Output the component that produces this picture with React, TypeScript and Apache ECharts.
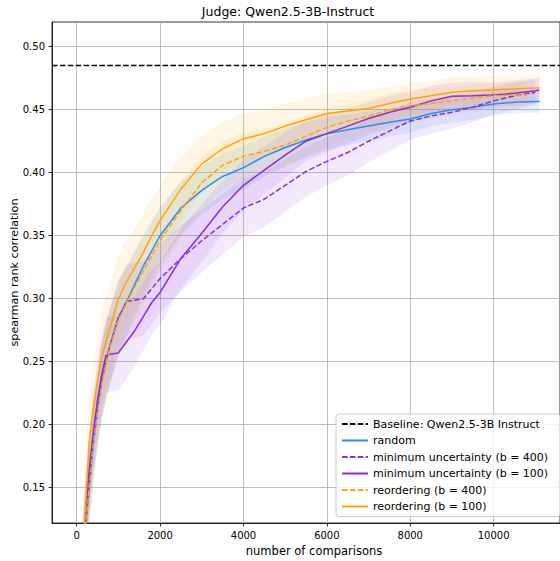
import React, { useEffect, useRef } from "react";
import * as echarts from "echarts";

// ---- data ----
const XS = [100, 200, 300, 400, 500, 600, 700, 800, 1000, 1200, 1400, 1600, 1800, 2000, 2500, 3000, 3500, 4000, 4500, 5000, 5500, 6000, 6500, 7000, 7500, 8000, 8500, 9000, 9500, 10000, 10500];

const RANDOM_X = [...XS, 11000, 11100];
const RANDOM_Y = [0.07, 0.112, 0.15, 0.185, 0.212, 0.235, 0.25, 0.263, 0.285, 0.298, 0.312, 0.326, 0.338, 0.35, 0.372, 0.386, 0.397, 0.404, 0.413, 0.42, 0.426, 0.431, 0.434, 0.437, 0.44, 0.4426, 0.447, 0.45, 0.452, 0.4545, 0.456, 0.4565, 0.4566];
const RANDOM_HW = [0.03, 0.03, 0.03, 0.03, 0.03, 0.03, 0.03, 0.03, 0.028, 0.027, 0.026, 0.025, 0.024, 0.023, 0.021, 0.019, 0.018, 0.017, 0.016, 0.015, 0.014, 0.013, 0.012, 0.012, 0.011, 0.011, 0.01, 0.01, 0.01, 0.009, 0.009, 0.009, 0.009];

const MU400_X = [...XS, 11000];
const MU400_Y = [0.07, 0.12, 0.155, 0.19, 0.215, 0.235, 0.25, 0.263, 0.285, 0.298, 0.299, 0.3, 0.308, 0.316, 0.332, 0.346, 0.359, 0.372, 0.379, 0.39, 0.401, 0.409, 0.416, 0.425, 0.433, 0.441, 0.445, 0.448, 0.452, 0.457, 0.461, 0.4638];
const MU400_HW = [0.03, 0.03, 0.03, 0.03, 0.03, 0.03, 0.03, 0.03, 0.03, 0.03, 0.03, 0.029, 0.028, 0.027, 0.026, 0.025, 0.024, 0.023, 0.022, 0.021, 0.02, 0.019, 0.018, 0.017, 0.016, 0.015, 0.014, 0.013, 0.012, 0.011, 0.011, 0.01];

const MU100_X = [...XS, 11000, 11100];
const MU100_Y = [0.07, 0.125, 0.165, 0.195, 0.22, 0.24, 0.255, 0.256, 0.257, 0.266, 0.275, 0.286, 0.297, 0.305, 0.332, 0.352, 0.373, 0.39, 0.402, 0.414, 0.425, 0.431, 0.437, 0.443, 0.448, 0.452, 0.457, 0.4606, 0.461, 0.4617, 0.463, 0.465, 0.4657];
const MU100_HW = [0.03, 0.03, 0.03, 0.03, 0.03, 0.03, 0.03, 0.03, 0.03, 0.029, 0.028, 0.027, 0.026, 0.025, 0.024, 0.023, 0.021, 0.02, 0.019, 0.018, 0.016, 0.015, 0.014, 0.013, 0.013, 0.012, 0.012, 0.011, 0.011, 0.01, 0.01, 0.01, 0.01];

const RE400_X = [...XS, 10800];
const RE400_Y = [0.075, 0.115, 0.15, 0.185, 0.21, 0.232, 0.248, 0.262, 0.283, 0.297, 0.31, 0.322, 0.334, 0.346, 0.37, 0.392, 0.406, 0.413, 0.417, 0.422, 0.429, 0.436, 0.441, 0.445, 0.45, 0.4532, 0.455, 0.4572, 0.459, 0.4612, 0.4615, 0.4618];
const RE400_HW = [0.03, 0.03, 0.03, 0.03, 0.03, 0.03, 0.03, 0.03, 0.03, 0.029, 0.028, 0.027, 0.026, 0.025, 0.023, 0.021, 0.02, 0.019, 0.018, 0.017, 0.016, 0.015, 0.014, 0.013, 0.013, 0.012, 0.012, 0.011, 0.011, 0.01, 0.01, 0.01];

const RE100_X = [...XS, 11000, 11100];
const RE100_Y = [0.075, 0.13, 0.186, 0.214, 0.234, 0.253, 0.266, 0.277, 0.3, 0.314, 0.325, 0.337, 0.35, 0.362, 0.387, 0.407, 0.419, 0.427, 0.431, 0.437, 0.442, 0.447, 0.449, 0.451, 0.455, 0.4585, 0.461, 0.4638, 0.465, 0.4657, 0.4665, 0.4673, 0.4675];
const RE100_HW = [0.035, 0.035, 0.035, 0.035, 0.035, 0.035, 0.035, 0.035, 0.034, 0.033, 0.032, 0.031, 0.03, 0.029, 0.026, 0.023, 0.021, 0.02, 0.019, 0.018, 0.017, 0.016, 0.015, 0.014, 0.014, 0.013, 0.012, 0.012, 0.011, 0.011, 0.01, 0.01, 0.01];

const BASELINE = 0.485;
const X_TICKS = [0, 2000, 4000, 6000, 8000, 10000];
const Y_TICKS = [0.15, 0.2, 0.25, 0.3, 0.35, 0.4, 0.45, 0.5];
const X_MIN = -593;
const X_MAX = 11592;
const Y_MIN = 0.122;
const Y_MAX = 0.5196;

const NAMES = {
  base: "Baseline: Qwen2.5-3B Instruct",
  random: "random",
  mu400: "minimum uncertainty (b = 400)",
  mu100: "minimum uncertainty (b = 100)",
  re400: "reordering (b = 400)",
  re100: "reordering (b = 100)",
};

const BLUE = "#1e90ff";
const PURPLE = "#8a2be2";
const ORANGE = "#ffa500";
const FONT = "DejaVu Sans";

const pairs = (xs: number[], ys: number[]) => xs.map((x, i) => [x, ys[i]]);

function band(xs: number[], ys: number[], hw: number[], color: string) {
  return {
    type: "custom",
    silent: true,
    clip: true,
    z: 1,
    data: [[xs[0], ys[0]]],
    renderItem: (_params: any, api: any) => {
      const upper = xs.map((x, i) => api.coord([x, ys[i] + hw[i]]));
      const lower = xs.map((x, i) => api.coord([x, ys[i] - hw[i]])).reverse();
      return {
        type: "polygon",
        shape: { points: [...upper, ...lower] },
        style: { fill: color, stroke: "none" },
      };
    },
  };
}

function line(name: string, xs: number[], ys: number[], color: string, dashed: boolean) {
  return {
    type: "line",
    name,
    data: pairs(xs, ys),
    symbol: "none",
    color,
    lineStyle: { color, width: 1.5, type: dashed ? [5.5, 2.4] : "solid" },
    z: 3,
  };
}

export default function App() {
  const ref = useRef<HTMLDivElement>(null);
  useEffect(() => {
    if (!ref.current) return;
    const chart = echarts.init(ref.current, null, { renderer: "svg" });
    const option: any = {
      animation: false,
      backgroundColor: "#fff",
      textStyle: { fontFamily: FONT },
      grid: { left: 52, top: 22, right: -6, bottom: 38, show: true, borderColor: "#000", borderWidth: 0.8, backgroundColor: "transparent" },
      xAxis: {
        type: "value",
        min: X_MIN,
        max: X_MAX,
        axisLine: { show: true, onZero: false, lineStyle: { color: "#000", width: 0.8 } },
        axisTick: { show: true, customValues: X_TICKS, length: 3.5, lineStyle: { color: "#000", width: 0.8 } },
        axisLabel: { customValues: X_TICKS, color: "#000", fontSize: 10, fontFamily: FONT, margin: 7, formatter: (v: number) => String(v) },
        splitLine: { show: true, lineStyle: { color: "#b0b0b0", width: 0.8 } },
      },
      yAxis: {
        type: "value",
        min: Y_MIN,
        max: Y_MAX,
        axisLine: { show: true, onZero: false, lineStyle: { color: "#000", width: 0.8 } },
        axisTick: { show: true, customValues: Y_TICKS, length: 3.5, lineStyle: { color: "#000", width: 0.8 } },
        axisLabel: { customValues: Y_TICKS, color: "#000", fontSize: 10, fontFamily: FONT, margin: 7, formatter: (v: number) => v.toFixed(2) },
        splitLine: { show: true, lineStyle: { color: "#b0b0b0", width: 0.8 } },
      },
      legend: {
        orient: "vertical",
        left: 336,
        top: 414,
        padding: [4, 12, 4, 5],
        itemWidth: 26,
        itemHeight: 12,
        itemGap: 4.5,
        itemStyle: { opacity: 0 },
        backgroundColor: "rgba(255,255,255,0.8)",
        borderColor: "#cccccc",
        borderWidth: 1,
        borderRadius: 3,
        textStyle: { color: "#000", fontSize: 11, fontFamily: FONT, lineHeight: 12 },
        data: [NAMES.base, NAMES.random, NAMES.mu400, NAMES.mu100, NAMES.re400, NAMES.re100],
      },
      graphic: [
        { type: "text", x: 288, y: 11, style: { text: "Judge: Qwen2.5-3B-Instruct", fontSize: 12.5, fontFamily: FONT, fill: "#000", textAlign: "center", textVerticalAlign: "middle" } },
        { type: "text", x: 314, y: 551, style: { text: "number of comparisons", fontSize: 11.5, fontFamily: FONT, fill: "#000", textAlign: "center", textVerticalAlign: "middle" } },
        { type: "text", x: 14.5, y: 272.5, rotation: Math.PI / 2, style: { text: "spearman rank correlation", fontSize: 11.2, fontFamily: FONT, fill: "#000", textAlign: "center", textVerticalAlign: "middle" } },
      ],
      series: [
        band(RANDOM_X, RANDOM_Y, RANDOM_HW, "rgba(30,144,255,0.12)"),
        band(MU400_X, MU400_Y, MU400_HW, "rgba(138,43,226,0.10)"),
        band(MU100_X, MU100_Y, MU100_HW, "rgba(138,43,226,0.10)"),
        band(RE400_X, RE400_Y, RE400_HW, "rgba(255,165,0,0.10)"),
        band(RE100_X, RE100_Y, RE100_HW, "rgba(255,165,0,0.10)"),
        {
          type: "line",
          name: NAMES.base,
          data: [[X_MIN, BASELINE], [X_MAX, BASELINE]],
          symbol: "none",
          color: "#000",
          lineStyle: { color: "#000", width: 1.5, type: [5.5, 2.4] },
          z: 3,
        },
        line(NAMES.random, RANDOM_X, RANDOM_Y, BLUE, false),
        line(NAMES.mu400, MU400_X, MU400_Y, PURPLE, true),
        line(NAMES.mu100, MU100_X, MU100_Y, PURPLE, false),
        line(NAMES.re400, RE400_X, RE400_Y, ORANGE, true),
        line(NAMES.re100, RE100_X, RE100_Y, ORANGE, false),
      ],
    };
    chart.setOption(option);
    return () => chart.dispose();
  }, []);
  return <div ref={ref} style={{ position: "fixed", left: 0, top: 0, width: 560, height: 561 }} />;
}
